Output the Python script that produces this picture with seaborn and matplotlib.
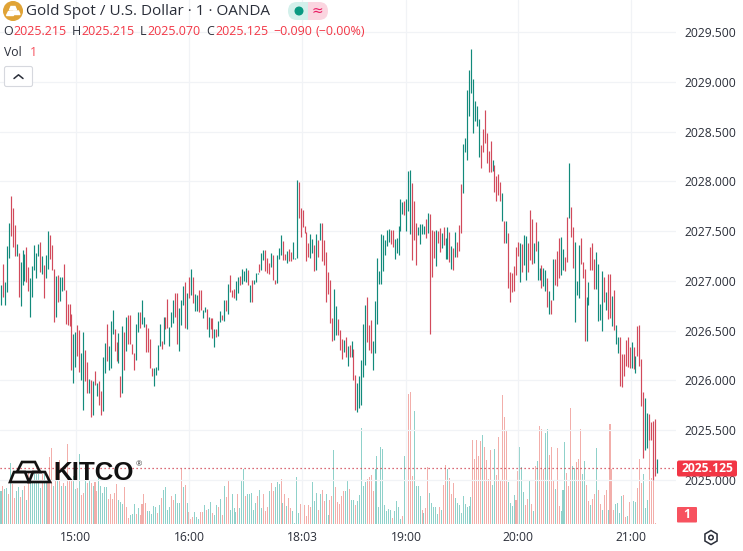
import numpy as np
import pandas as pd
import matplotlib
matplotlib.use("Agg")
import matplotlib.pyplot as plt
from matplotlib.patches import Circle, FancyBboxPatch, Polygon, Rectangle, RegularPolygon
import seaborn as sns

PRICE_BASE = 2025.0
LAST_PRICE = 2025.125
PRICE_TICKS = [2025.0, 2025.5, 2026.0, 2026.5, 2027.0, 2027.5, 2028.0, 2028.5, 2029.0, 2029.5]
TIME_LABELS = ["15:00", "16:00", "18:03", "19:00", "20:00", "21:00"]

# price above PRICE_BASE, one entry per one-minute bar
high_a = [1.96,2.17,1.99,2.35,2.58, 2.85,2.73,2.56,2.37,2.28, 2.19,2.31,2.27,2.34,2.14, 2.03,2.15,2.36,2.28,2.37,
          2.39,2.25,2.16,2.26,2.50, 2.46,2.36,2.12,2.05,2.06, 2.04,2.04,2.17,1.91,1.77, 1.77,1.67,1.47,1.49,1.56,
          1.51,1.28,1.49,1.31,1.19, 1.01,1.00,0.99,1.09,0.97, 0.99,0.89,1.24,1.38,1.57, 1.35,1.60,1.71,1.52,1.39,
          1.48,1.04,1.55,1.49,1.64, 1.66,1.66,1.37,1.28,1.57, 1.69,1.69,1.81,1.64,1.57, 1.53,1.42,1.13,1.12,1.14,
          1.36,1.57,1.40,1.64,1.64, 1.82,1.54,1.69,1.81,1.88, 1.88,1.73,1.81,1.95,1.99, 1.88,2.04,2.12,2.04,1.87,
          1.86,1.91,1.91,1.71,1.74, 1.72,1.64,1.63,1.63,1.52, 1.52,1.60,1.70,1.66,1.81, 1.81,1.97]
low_a = [1.76,1.84,1.76,1.89,2.23, 2.45,2.34,2.25,2.25,1.84, 1.75,1.96,2.00,1.99,1.90, 1.64,1.84,2.11,2.03,2.25,
         2.09,2.07,1.83,2.03,2.12, 2.22,2.11,1.59,1.64,1.79, 1.80,1.90,1.91,1.57,1.56, 1.55,1.10,0.97,1.14,1.25,
         1.08,1.00,0.70,0.99,0.87, 0.87,0.63,0.65,0.95,0.84, 0.75,0.65,0.69,1.07,1.20, 1.10,1.12,1.47,1.30,1.20,
         1.18,0.83,0.87,1.10,1.30, 1.37,1.37,1.27,1.10,1.21, 1.49,1.53,1.57,1.54,1.29, 1.29,1.13,1.04,0.94,1.05,
         1.10,1.35,1.32,1.37,1.52, 1.53,1.35,1.54,1.58,1.64, 1.37,1.30,1.56,1.76,1.53, 1.52,1.83,1.86,1.78,1.70,
         1.70,1.69,1.71,1.63,1.69, 1.52,1.44,1.52,1.43,1.34, 1.44,1.45,1.59,1.61,1.60, 1.70,1.67]
dir_a = ("grggg rrrgr gggrr ggggg rgrgg rrrgr ggrrr rrggr rggrr grgrg rrggr gggrr grgrg rrrrg grggr rrrgg ggrgr "
         "rgggr rgggr grgrg grrgg rgrrg rggrg rg")

high_b = [2.06,1.91,1.92,2.00,2.04, 2.05,2.12,2.10,2.13,2.11, 1.96,2.01,2.01,2.08,2.08, 2.17,2.28,2.31,2.31,2.23,
          2.18,2.28,2.26,2.01,2.26, 2.33,2.46,2.40,2.27,2.30, 2.32,2.29,2.39,2.23,3.01, 2.99,2.73,2.71,2.55,2.49,
          2.38,2.47,2.42,2.36,2.47, 2.41,2.58,2.58,2.41,2.29, 2.09,2.01,1.63,1.92,1.75, 1.62,1.51,1.42,1.41,1.44,
          1.35,1.36,1.40,1.32,1.05, 0.97,1.04,1.21,1.57,1.76, 1.84,1.56,1.61,1.40,1.80, 2.23,2.10,2.47,2.46,2.41,
          2.51,2.52,2.51,2.51,2.42, 2.43,2.55,2.82,2.79,2.80, 2.82,3.10,3.11,2.98,2.80, 2.58,2.54,2.57,2.57,2.55,
          2.62,2.68,2.67,2.51,2.50, 2.51,2.50,2.53,2.48,2.54, 2.43,2.54,2.49,2.35,2.33, 2.49,2.39]
low_b = [1.89,1.84,1.83,1.81,1.88, 1.96,1.97,2.00,1.99,1.96, 1.79,1.79,1.97,1.99,2.07, 2.09,2.11,2.21,2.10,2.08,
         2.07,2.14,2.01,1.97,1.98, 2.22,2.26,2.21,2.21,2.18, 2.20,2.20,2.22,2.22,2.23, 2.63,2.44,2.54,2.48,2.20,
         2.24,2.23,2.28,2.10,2.11, 2.24,2.41,2.20,2.16,1.79, 1.87,1.58,1.40,1.41,1.46, 1.46,1.31,1.22,1.29,1.24,
         1.15,1.24,1.24,1.00,0.70, 0.68,0.72,0.75,1.03,1.16, 1.39,1.31,1.28,1.10,1.28, 1.57,1.97,1.97,2.10,2.26,
         2.35,2.39,2.37,2.34,2.22, 2.28,2.26,2.50,2.67,2.66, 2.50,2.70,2.47,2.21,2.41, 2.16,2.46,2.37,2.47,2.47,
         2.43,2.48,1.47,2.04,2.23, 2.15,2.38,2.29,2.33,2.36, 2.22,2.22,2.19,2.12,2.11, 2.24,2.24]
dir_b = ("rrrgg rgggr grggg rggrr rgrrg ggrrg rrggg rrrrr rggrg rgrrr rrrgg rrrgr grgrr ggggg rrrgg ggggg ggrrg "
         "ggggr gggrr rgggg rgrrr grrgr ggrgr grrrg gg")

high_c = [2.56,2.97,3.37,3.44,3.92, 4.12,4.33,4.03,3.81,3.76, 3.63,3.36,3.53,3.72,3.49, 3.30,3.41,3.21,3.16,3.05,
          3.07,2.99,2.88,2.60,2.60, 2.48,2.09,2.08,2.15,2.34, 2.39,2.38,2.37,2.46,2.45, 2.38,2.71,2.62,2.38,2.59,
          2.40,2.13,2.16,2.13,2.11, 2.03,1.90,1.81,2.22,2.22, 2.30,2.43,2.44,2.32,2.24, 2.64,3.18,2.74,2.54,2.39,
          2.00,2.36,2.43,2.19,2.12, 1.84,1.99,2.34,2.38,2.22, 2.29,2.17,1.77,2.10,2.04, 1.89,2.07,2.07,1.85,1.91,
          1.56,1.44,1.44,1.27,1.27, 1.41,1.44,1.34,1.39,1.34, 1.25,1.55,1.56,1.22,0.88, 0.82,0.67,0.66,0.58,0.59,
          0.61,0.215]
low_c = [2.30,2.48,2.88,3.29,3.21, 3.66,3.89,3.49,3.61,3.56, 3.24,3.13,3.29,3.39,3.18, 3.09,3.09,3.10,2.89,2.80,
         2.86,2.80,2.60,2.38,2.38, 1.93,1.79,1.89,1.90,2.06, 2.25,1.99,2.09,2.16,2.01, 2.09,2.21,2.17,2.18,2.30,
         2.01,2.01,1.93,1.95,1.90, 1.74,1.67,1.67,1.81,1.96, 1.95,2.03,2.06,2.11,2.10, 2.19,2.63,2.44,2.13,1.59,
         1.86,1.83,2.17,2.03,1.40, 1.40,1.76,2.11,2.11,1.92, 1.92,1.60,1.61,1.50,1.79, 1.71,1.62,1.63,1.55,1.51,
         1.37,1.28,0.94,0.93,1.04, 1.15,1.14,1.13,1.12,1.11, 1.07,1.25,1.15,0.74,0.22, 0.30,0.32,0.40,0.40,0.00,
         0.04,0.07]
dir_c = ("ggggg grrrr rrgrr rrgrg rrrrr rgrgg rrrgr ggrgg rgrgr rrggr rgrrg ggrrr ggrrr ggggr grrgr ggrrr rrrgr "
         "grrrr ggrrr rgrgr rr")

vol_a = [33,38,35,36,30,61,40,26,33,37,27,34,38,24,53,50,41,51,50,50,36,50,50,43,45,67,76,38,62,58,64,38,41,38,80,45,
         45,48,35,36,70,29,31,43,41,43,41,38,42,33,56,38,31,37,37,25,30,25,31,40,24,22,20,37,17,6,9,10,20,10,16,9,20]
vdir_a = "grggrgrrgg rgrgrggggg grggrrrgrg rgrgrrrggr grrgrgrgrr gggggrrrrr gggrrrgggr grr"
vol_b = [30,21,13,13,10,18,17,11,19,26,34,37,14,17,28,24,30,21,21,55,37,39,21,12,5,7,12,7,5,12,12,19,14,15,22,11,9,19,17,
         25,9,38,27,43,14,30,16,12,30,16,43,55,28,30,30,31,14,21,28,34,16,30,13,17,33,41,33,37,42,40,45,21,30,18,26,16,13,1,47,11]
vdir_b = "rrgggggrgr ggggrrgggr grgrrrgggr rgrggrggrg rgrrggggrg ggrgggggrg grrrgrrggg rgrgrrgggg"
vol_c = [20,22,19,8,19,17,42,23,31,14,30,34,23,30,9,24,28,74,37,22,20,28,33,33,43,35,24,24,19,23,29,96,38,42,45,47,49,33,
         55,68,17,77,75,19,13,15,14,6,13,23,17,5,8,68,58,130,132,48,113,38,38,28,14,11,16,57,31,21,17,17,10,17,14,39,59,55,
         46,30,41,26,21,19,11,28,20,17,18,27,84,65,84,68,83,89,77,64,45,74,39,75,49,87,43,129,107,93,42,21,18,29,24,53,
         77,57,32,19,25,43,20,13,58,63,98,95,55,91,95,69,77,44,35,76,18,13,34,82,51,38,116,58,56,62,65,95,50,63,39,23,19,25,30]
vdir_c = ("rrrrrrgggr grrggrrgrr rrrggrggrg ggggrrrrgg gggggggrgg ggrggrrrgg ggrgrrgggg grgrrgrrrg ggggggggrr rrrgrrrrgg "
          "rrrrrrgggg rrgggrrgrg rgrrrggrrr grrgggrrrg grrrggrrgr r")
vol_d = [76,34,20,14,29,34,14,100,55,14,20,21,11,28,29,7,8,22,27,23,22,36,65,41,50,16,24,103,46,101,1]
vdir_d = "grrgrrgrrr ggggrrgrrg grrrgggrrr r"

high = np.array(high_a + high_b + high_c)
low = np.array(low_a + low_b + low_c)
dirs = list((dir_a + dir_b + dir_c).replace(" ", ""))
vols = np.array(vol_a + vol_b + vol_c + vol_d, dtype=float)
vdirs = list((vdir_a + vdir_b + vdir_c + vdir_d).replace(" ", ""))
m = min(len(high), len(low))
high, low = high[:m], low[:m]
dirs = (dirs + ["r"] * m)[:m]
k = len(vols)
vdirs = (vdirs + ["r"] * k)[:k]

RED = "#d24a5b"
GREEN = "#128a7b"
VRED = "#f2aeaa"
VGREEN = "#8fd1ca"
GRID = "#f1f3f6"
TEXT = "#2a2e39"
ALERT = "#f23645"

sns.set_theme(style="white", rc={"axes.edgecolor": "none"})
plt.rcParams["font.family"] = ["Open Sans", "DejaVu Sans"]

fig = plt.figure(figsize=(7.43, 5.51), dpi=100, facecolor="white")
ax = fig.add_axes([0, 27 / 551, 676 / 743, 524 / 551])
ax2 = ax.twinx()

step = 656 / (m - 1)
vstep = 656 / (k - 1)
bars = np.arange(m)
vol_df = pd.DataFrame({"bar": np.arange(k), "vol": vols, "dir": vdirs})
sns.barplot(data=vol_df, x="bar", y="vol", hue="dir", palette={"r": VRED, "g": VGREEN},
            hue_order=["r", "g"], dodge=False, width=0.55, saturation=1, legend=False, ax=ax2)
for p in ax2.patches:
    centre = p.get_x() + p.get_width() / 2
    p.set_width(0.52)
    p.set_x(centre - 0.26)
    p.set_linewidth(0)
ax2.set_ylim(0, 524)
ax2.set_xlim(-1 / vstep, 675 / vstep)
ax2.set_axis_off()
ax.set_zorder(2)
ax2.set_zorder(1)
ax.patch.set_visible(False)

colors = [RED if d == "r" else GREEN for d in dirs]
ax.vlines(bars, PRICE_BASE + low, PRICE_BASE + high, colors=colors, linewidth=0.85)
ax.axhline(LAST_PRICE, color="#cf3a4a", linewidth=0.9, linestyle=(0, (1, 2.2)), zorder=1)

ax.set_xlim(-1 / step, 675 / step)
ax.set_ylim(2025 - 44 / 99.56, 2029.5 + 32 / 99.56)
tick_px = np.array([76, 189, 302, 406, 518, 631])
ax.set_xticks((tick_px - 1) / step, TIME_LABELS)
ax.yaxis.tick_right()
ax.set_yticks(PRICE_TICKS, [f"{v:.3f}" for v in PRICE_TICKS])
ax.grid(True, color=GRID, linewidth=0.9, zorder=0)
ax.set_axisbelow(True)
ax.tick_params(axis="both", length=0, labelsize=8.7, labelcolor=TEXT)
ax.tick_params(axis="y", pad=6)
ax.tick_params(axis="x", pad=5)
for s in ax.spines.values():
    s.set_visible(False)

ov = fig.add_axes([0, 0, 1, 1], zorder=5)
ov.set_xlim(0, 743)
ov.set_ylim(551, 0)
ov.set_axis_off()
ov.patch.set_visible(False)

# header
ov.add_patch(Circle((13, 11), 9.3, color="#e0a336"))
for pts in ([(11, 6.5), (15, 6.5), (16.5, 10), (9.5, 10)], [(7.5, 11), (12.5, 11), (12.5, 14.5), (6, 14.5)],
            [(13.5, 11), (18.5, 11), (20, 14.5), (13.5, 14.5)]):
    ov.add_patch(Polygon(pts, closed=True, color="white"))
ov.text(26, 11.5, "Gold Spot / U.S. Dollar · 1 · OANDA", fontsize=11.0, color=TEXT, va="center", ha="left")
ov.add_patch(FancyBboxPatch((295, 2), 33, 18, boxstyle="round,pad=0,rounding_size=9", fc="#fbd5e0", ec="none"))
ov.add_patch(FancyBboxPatch((288, 2), 30, 18, boxstyle="round,pad=0,rounding_size=9", fc="#d3f0eb", ec="none"))
ov.add_patch(Rectangle((308, 2), 12, 18, fc="#fbd5e0", ec="none"))
ov.add_patch(Circle((299, 11), 3.8, color="#089981"))
ov.text(317, 11, "≈", fontsize=10, color="#e91e63", ha="center", va="center", family="DejaVu Sans")

line2 = [(3, "O", TEXT), (13, "2025.215", ALERT), (72, "H", TEXT), (81, "2025.215", ALERT), (140, "L", TEXT),
         (147, "2025.070", ALERT), (206, "C", TEXT), (215, "2025.125", ALERT), (273, "−0.090", ALERT),
         (316, "(−0.00%)", ALERT)]
for x, s, c in line2:
    ov.text(x, 31.5, s, fontsize=9.0, color=c, va="center", ha="left")
ov.text(4, 52.5, "Vol", fontsize=8.8, color=TEXT, va="center", ha="left")
ov.text(30, 52.5, "1", fontsize=8.8, color="#f7525f", va="center", ha="left")
ov.add_patch(FancyBboxPatch((4.5, 66.5), 28, 20, boxstyle="round,pad=0,rounding_size=2", fc="white", ec="#d6d8de",
                            lw=0.8))
ov.plot([14, 18.5, 23], [78.5, 74.8, 78.5], color=TEXT, lw=1.1)

# right side labels
ov.add_patch(FancyBboxPatch((677, 460.5), 60, 16, boxstyle="round,pad=0,rounding_size=2", fc="#f23645", ec="none"))
ov.text(707, 468.5, "2025.125", fontsize=8.7, color="white", weight="bold", ha="center", va="center")
ov.add_patch(FancyBboxPatch((677, 507), 20, 15.5, boxstyle="round,pad=0,rounding_size=1", fc="#f7525f", ec="none"))
ov.text(687, 514.8, "1", fontsize=8.7, color="white", weight="bold", ha="center", va="center")
ov.add_patch(RegularPolygon((711, 537.5), 6, radius=7, fc="none", ec=TEXT, lw=1.1))
ov.add_patch(Circle((711, 537.5), 2.2, fc="none", ec=TEXT, lw=1.1))

# KITCO logo
for pts in ([(22, 462), (35, 462), (40, 472), (17, 472)], [(14, 472), (10, 482), (29, 482), (25, 472)],
            [(33, 472), (29, 482), (50, 482), (45, 472)]):
    ov.add_patch(Polygon(pts, closed=True, fc="none", ec="#111111", lw=1.9, joinstyle="miter"))
ov.text(53, 472.5, "KITCO", fontsize=18.6, color="#111111", weight="bold", ha="left", va="center",
        family="Liberation Sans")
ov.text(138.5, 465, "®", fontsize=5.5, color="#333333", ha="center", va="center")

fig.savefig("out.png", dpi=100, facecolor="white")
